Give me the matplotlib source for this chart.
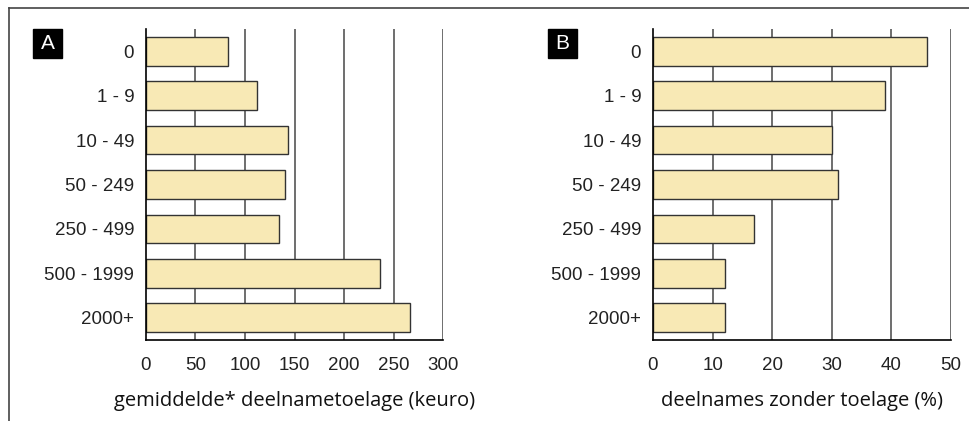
import numpy as np
import matplotlib
matplotlib.use('Agg')
import matplotlib.pyplot as plt
from matplotlib.lines import Line2D

plt.rcParams['font.family'] = ['Liberation Sans', 'DejaVu Sans']

categories = ['0', '1 - 9', '10 - 49', '50 - 249', '250 - 499', '500 - 1999', '2000+']
toelage_keuro = [83, 112, 143, 140, 134, 236, 267]
zonder_toelage_pct = [46, 39, 30, 31, 17, 12, 12]

xticks_a = [0, 50, 100, 150, 200, 250, 300]
xticks_b = [0, 10, 20, 30, 40, 50]

BAR_COLOR = '#f8e9b5'
EDGE_COLOR = '#333333'
TICK_FS = 13.5
LABEL_FS = 14.5

W, H = 970, 421
fig = plt.figure(figsize=(W / 100, H / 100), dpi=100)


def px_axes(left, top, right, bottom):
    return fig.add_axes([left / W, 1 - bottom / H, (right - left) / W, (bottom - top) / H])


def draw_panel(ax, values, xticks, xlabel):
    y = np.arange(len(categories))
    for xt in xticks[1:]:
        ax.axvline(xt, color='#555555', linewidth=1.2, zorder=1)
    ax.barh(y, values, height=0.645, color=BAR_COLOR, edgecolor=EDGE_COLOR,
            linewidth=1.0, zorder=2)
    ax.set_ylim(len(categories) - 0.5, -0.5)
    ax.set_xlim(xticks[0], xticks[-1])
    ax.set_yticks(y)
    ax.set_yticklabels(categories, fontsize=TICK_FS, color='#222222')
    ax.set_xticks(xticks)
    ax.set_xticklabels([str(t) for t in xticks], fontsize=TICK_FS, color='#222222')
    ax.tick_params(axis='y', length=0, pad=8.5)
    ax.tick_params(axis='x', length=0, pad=12.5)
    for side in ['top', 'right']:
        ax.spines[side].set_visible(False)
    for side in ['left', 'bottom']:
        ax.spines[side].set_color('black')
        ax.spines[side].set_linewidth(1.2)
    ax.set_xlabel(xlabel, fontsize=LABEL_FS, labelpad=12, color='#111111',
                  family=['Open Sans', 'DejaVu Sans'])


ax_a = px_axes(146, 29, 443, 340)
draw_panel(ax_a, toelage_keuro, xticks_a, 'gemiddelde* deelnametoelage (keuro)')

ax_b = px_axes(653, 29, 951, 340)
draw_panel(ax_b, zonder_toelage_pct, xticks_b, 'deelnames zonder toelage (%)')

# panel letters in black boxes
for letter, x0 in [('A', 33), ('B', 548)]:
    fig.patches.append(plt.Rectangle((x0 / W, 1 - 58 / H), 29 / W, 29 / H,
                                     transform=fig.transFigure, color='black'))
    fig.text((x0 + 14.5) / W, 1 - 43.5 / H, letter, color='white', fontsize=15,
             ha='center', va='center')

# outer frame (top and left only)
fig.add_artist(Line2D([9 / W, 1], [1 - 8 / H, 1 - 8 / H], color='#444444', linewidth=1.2))
fig.add_artist(Line2D([9 / W, 9 / W], [0, 1 - 8 / H], color='#444444', linewidth=1.2))

fig.savefig('out.png', dpi=100)
